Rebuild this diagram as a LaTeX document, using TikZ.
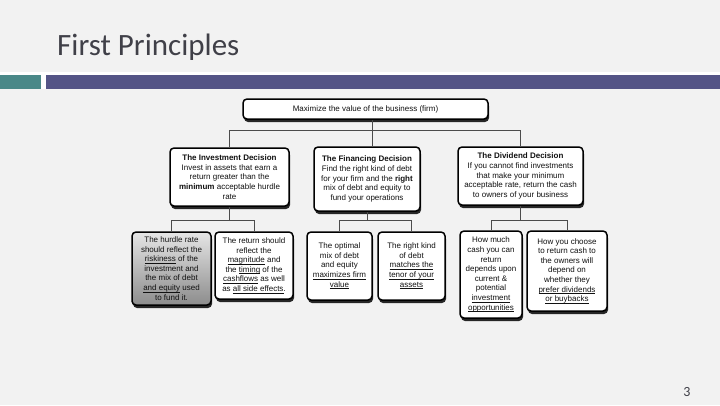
\documentclass[tikz,border=0pt]{standalone}
\usepackage{fontspec}
\setmainfont{Liberation Sans}
\newfontfamily\titlefont{Carlito}
\usetikzlibrary{shadows}
\definecolor{bg}{HTML}{F2F2F2}
\definecolor{barteal}{HTML}{4A8888}
\definecolor{barpurple}{HTML}{545486}
\definecolor{titlec}{HTML}{404048}
\definecolor{txt}{HTML}{111111}
\newcommand\myul[1]{\underline{\smash{#1}}}
\begin{document}
\begin{tikzpicture}[x=1pt,y=-1pt,
  box/.style={draw=black, line width=1.5pt, rounded corners=4pt, fill=white,
    drop shadow={shadow xshift=1pt, shadow yshift=-3pt, opacity=1, fill=black!85},
    align=center, inner sep=1pt, text=txt,
    font=\fontsize{8}{9.6}\selectfont},
  conn/.style={draw=black!70, line width=0.6pt}]
\useasboundingbox (0,0) rectangle (720,405);
\fill[bg] (0,0) rectangle (720,405);
\fill[white] (0,72) rectangle (720,75);
\fill[barteal] (0,75) rectangle (41,89);
\fill[white] (41,75) rectangle (46,89);
\fill[barpurple] (46,75) rectangle (720,89);
\node[anchor=base west, inner sep=0, text=titlec, font=\titlefont\fontsize{31}{31}\selectfont] (title) at (57,55) {First Principles};
\node[anchor=base, inner sep=0, text=titlec, font=\titlefont\fontsize{14}{14}\selectfont] (pnum) at (687,396) {3};

% level 1
\node[box, minimum width=245pt, minimum height=20pt] (top) at (365.5,109) {Maximize the value of the business (firm)};
% level 2
\node[box, minimum width=119pt, minimum height=58pt] (inv) at (229.5,177)
  {\textbf{The Investment Decision}\\Invest in assets that earn a\\return greater than the\\\textbf{minimum} acceptable hurdle\\rate};
\node[box, minimum width=106pt, minimum height=64pt] (fin) at (367,179)
  {\textbf{The Financing Decision}\\Find the right kind of debt\\for your firm and the \textbf{right}\\mix of debt and equity to\\fund your operations};
\node[box, minimum width=125pt, minimum height=58pt] (div) at (520.5,176)
  {\textbf{The Dividend Decision}\\If you cannot find investments\\that make your minimum\\acceptable rate, return the cash\\to owners of your business};
% level 3
\node[box, top color=white!90!black, bottom color=black!45, minimum width=79pt, minimum height=73pt] (hur) at (171.5,268.5)
  {The hurdle rate\\should reflect the\\\myul{riskiness} of the\\investment and\\the mix of debt\\\myul{and equity} used\\to fund it.};
\node[box, minimum width=78pt, minimum height=67pt] (ret) at (254,265.5)
  {The return  should\\reflect the\\\myul{magnitude} and\\the \myul{timing} of the\\\myul{cashflows} as well\\as \myul{all side effects}.};
\node[box, minimum width=65pt, minimum height=68pt] (opt) at (339.5,266)
  {The optimal\\mix of debt\\and equity\\\myul{maximizes firm}\\\myul{value}};
\node[box, minimum width=67pt, minimum height=68pt] (rk) at (411.5,266)
  {The right kind\\of debt\\\myul{matches the}\\\myul{tenor of your}\\\myul{assets}};
\node[box, minimum width=62pt, minimum height=87pt] (hm) at (491,274.5)
  {How much\\cash you can\\return\\depends upon\\current  \&\\potential\\\myul{investment}\\\myul{opportunities}};
\node[box, minimum width=80pt, minimum height=80pt] (hc) at (567,271)
  {How you choose\\to return cash to\\the owners will\\depend on\\whether they\\\myul{prefer dividends}\\\myul{or buybacks}};

% connectors
\coordinate (j1) at (372,130);
\draw[conn] ([xshift=6.5pt]top.south) -- (j1);
\draw[conn] (j1) -| (inv.north);
\draw[conn] (j1) -- (fin.north -| j1);
\draw[conn] (j1) -| (div.north);
\coordinate (j2) at (inv.south |- 0,220);
\draw[conn] (inv.south) -- (j2);
\draw[conn] (j2) -| (hur.north);
\draw[conn] (j2) -| (ret.north);
\coordinate (j3) at (fin.south |- 0,220);
\draw[conn] (fin.south) -- (j3);
\draw[conn] (j3) -| (opt.north);
\draw[conn] (j3) -| (rk.north);
\coordinate (j4) at (div.south |- 0,220);
\draw[conn] (div.south) -- (j4);
\draw[conn] (j4) -| (hm.north);
\draw[conn] (j4) -| (hc.north);
\end{tikzpicture}
\end{document}
